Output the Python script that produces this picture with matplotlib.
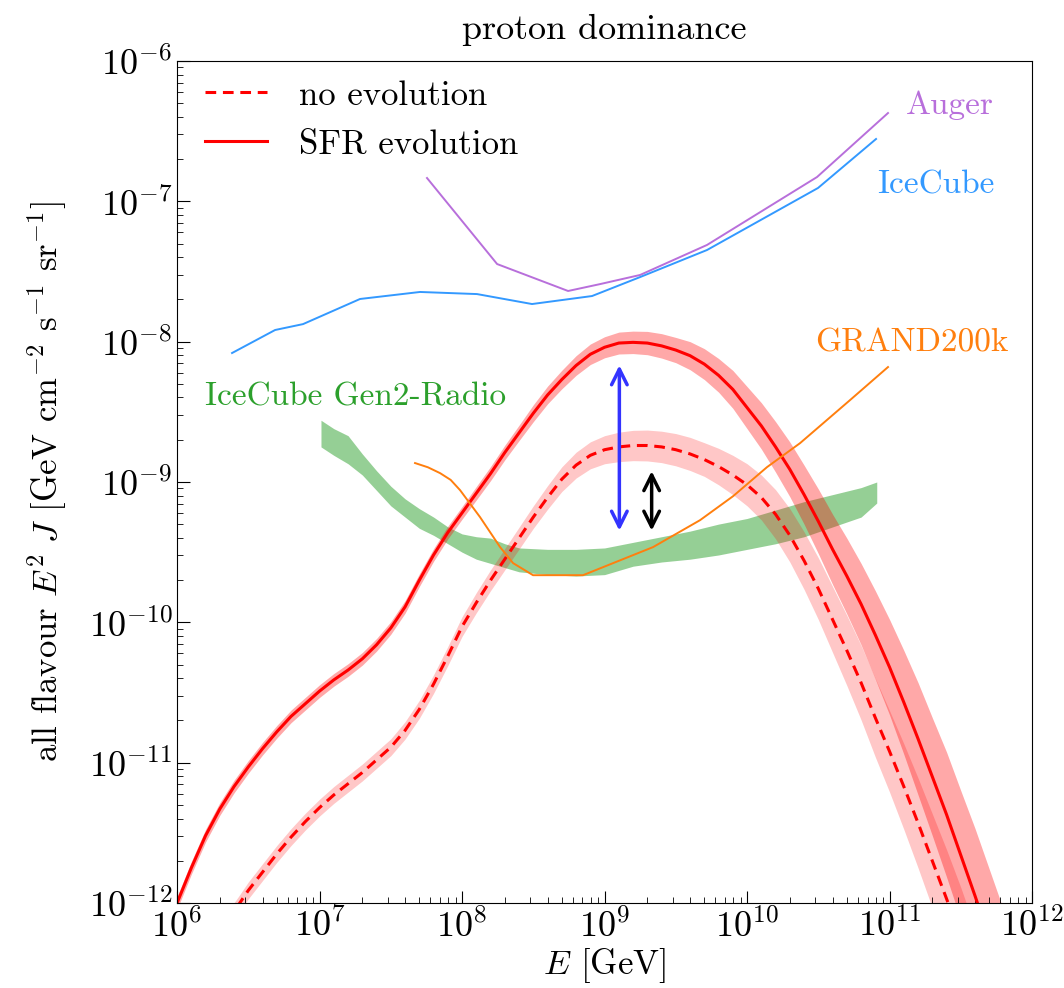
import numpy as np
import matplotlib.pyplot as plt

plt.rcParams['font.family'] = 'serif'
plt.rcParams['font.serif'] = ['cmr10']
plt.rcParams['mathtext.fontset'] = 'cm'
plt.rcParams['axes.formatter.use_mathtext'] = True

# all values are log10(E/GeV) and log10(E^2 J)
sfr_logE = [5.95, 6.00, 6.10, 6.20, 6.30, 6.40, 6.50, 6.60, 6.70, 6.80, 6.90,
            7.00, 7.10, 7.20, 7.30, 7.40, 7.50, 7.60, 7.70, 7.80, 7.90,
            8.00, 8.10, 8.20, 8.30, 8.40, 8.50, 8.60, 8.70, 8.80, 8.90,
            9.00, 9.10, 9.20, 9.30, 9.40, 9.50, 9.60, 9.70, 9.80, 9.90,
            10.00, 10.10, 10.20, 10.30, 10.40, 10.50, 10.60, 10.70, 10.80, 10.90,
            11.00, 11.10, 11.20, 11.30, 11.40, 11.50, 11.60, 11.70, 11.80]
sfr_logF = [-12.12, -12.00, -11.75, -11.52, -11.33, -11.17, -11.03, -10.90, -10.78, -10.67, -10.58,
            -10.49, -10.41, -10.34, -10.26, -10.16, -10.04, -9.89, -9.70, -9.52, -9.36,
            -9.22, -9.08, -8.94, -8.79, -8.65, -8.51, -8.38, -8.27, -8.17, -8.09,
            -8.04, -8.01, -8.005, -8.01, -8.03, -8.06, -8.10, -8.16, -8.24, -8.34,
            -8.47, -8.60, -8.75, -8.91, -9.09, -9.28, -9.48, -9.67, -9.87, -10.09,
            -10.32, -10.57, -10.83, -11.10, -11.37, -11.66, -11.95, -12.25, -12.55]
sfr_dex = [0.045, 0.045, 0.045, 0.045, 0.045, 0.045, 0.045, 0.045, 0.045, 0.045, 0.045,
           0.045, 0.045, 0.045, 0.045, 0.045, 0.045, 0.045, 0.045, 0.045, 0.045,
           0.045, 0.048, 0.05, 0.052, 0.055, 0.06, 0.063, 0.066, 0.07, 0.073,
           0.075, 0.078, 0.08, 0.083, 0.087, 0.09, 0.10, 0.11, 0.12, 0.135,
           0.15, 0.165, 0.18, 0.195, 0.21, 0.23, 0.25, 0.27, 0.29, 0.315,
           0.34, 0.37, 0.40, 0.42, 0.445, 0.46, 0.48, 0.49, 0.50]

noevo_logE = [6.35, 6.44, 6.50, 6.60, 6.70, 6.80, 6.90,
              7.00, 7.10, 7.20, 7.30, 7.40, 7.50, 7.60, 7.70, 7.80, 7.90,
              8.00, 8.10, 8.20, 8.30, 8.40, 8.50, 8.60, 8.70, 8.80, 8.90,
              9.00, 9.10, 9.20, 9.30, 9.40, 9.50, 9.60, 9.70, 9.80, 9.90,
              10.00, 10.10, 10.20, 10.30, 10.40, 10.50, 10.60, 10.70, 10.80, 10.90,
              11.00, 11.10, 11.20, 11.30, 11.40, 11.50, 11.60]
noevo_logF = [-12.13, -12.00, -11.91, -11.78, -11.65, -11.53, -11.42,
              -11.32, -11.23, -11.15, -11.07, -10.98, -10.89, -10.77, -10.62, -10.44, -10.24,
              -10.03, -9.86, -9.70, -9.55, -9.40, -9.25, -9.11, -8.98, -8.88, -8.81,
              -8.77, -8.75, -8.74, -8.74, -8.75, -8.77, -8.80, -8.84, -8.89, -8.95,
              -9.02, -9.11, -9.23, -9.38, -9.56, -9.76, -9.98, -10.20, -10.43, -10.68,
              -10.92, -11.17, -11.43, -11.70, -11.97, -12.25, -12.55]
noevo_dex = [0.06, 0.06, 0.06, 0.06, 0.06, 0.06, 0.06,
             0.06, 0.06, 0.06, 0.06, 0.06, 0.06, 0.062, 0.064, 0.066, 0.068,
             0.07, 0.072, 0.074, 0.076, 0.078, 0.08, 0.084, 0.088, 0.092, 0.096,
             0.10, 0.105, 0.108, 0.11, 0.112, 0.115, 0.118, 0.12, 0.13, 0.14,
             0.15, 0.16, 0.175, 0.19, 0.205, 0.22, 0.235, 0.25, 0.265, 0.28,
             0.29, 0.305, 0.32, 0.335, 0.35, 0.36, 0.37]

icecube_logE = [6.386, 6.688, 6.884, 7.284, 7.705, 8.105, 8.491, 8.912, 9.249, 9.719, 10.498, 10.905]
icecube_logF = [-8.081, -7.917, -7.875, -7.696, -7.646, -7.661, -7.732, -7.675, -7.54, -7.347, -6.905, -6.556]

auger_logE = [7.754, 8.246, 8.744, 8.968, 9.249, 9.719, 10.491, 10.989]
auger_logF = [-6.834, -7.447, -7.639, -7.59, -7.525, -7.311, -6.827, -6.371]

grand_logE = [7.670, 7.760, 7.846, 7.920, 7.986, 8.126, 8.267, 8.358, 8.498, 8.849, 9.060, 9.340,
              9.670, 9.902, 10.140, 10.372, 10.723, 10.989]
grand_logF = [-8.865, -8.895, -8.937, -8.985, -9.058, -9.250, -9.464, -9.578, -9.664, -9.664, -9.578, -9.464,
              -9.272, -9.101, -8.894, -8.723, -8.416, -8.181]

gen2_logE = [7.01, 7.10, 7.20, 7.30, 7.40, 7.50, 7.60, 7.70, 7.80, 7.90, 8.00, 8.10, 8.20, 8.30,
             8.40, 8.60, 8.80, 9.00, 9.20, 9.40, 9.60, 9.80, 10.00, 10.20, 10.40, 10.60, 10.80, 10.91]
gen2_top = [-8.56, -8.62, -8.67, -8.80, -8.92, -9.03, -9.12, -9.19, -9.25, -9.32, -9.37, -9.39, -9.40, -9.44,
            -9.47, -9.48, -9.48, -9.47, -9.43, -9.39, -9.35, -9.30, -9.26, -9.20, -9.14, -9.09, -9.04, -9.00]
gen2_bot = [-8.75, -8.81, -8.87, -8.95, -9.06, -9.17, -9.25, -9.33, -9.38, -9.44, -9.50, -9.55, -9.58, -9.61,
            -9.64, -9.66, -9.67, -9.66, -9.60, -9.57, -9.55, -9.52, -9.48, -9.44, -9.39, -9.32, -9.25, -9.15]


def E(a):
    return 10 ** np.asarray(a, dtype=float)


fig = plt.figure(figsize=(10.64, 9.88), dpi=100)
ax = fig.add_axes([0.1664, 0.086, 0.8036, 0.8523])

ax.fill_between(E(gen2_logE), E(gen2_bot), E(gen2_top), color='tab:green', alpha=0.5, lw=0)

nf = np.array(noevo_logF)
sf = np.array(sfr_logF)
ax.fill_between(E(noevo_logE), E(nf - noevo_dex), E(nf + noevo_dex), color='red', alpha=0.22, lw=0)
ax.fill_between(E(sfr_logE), E(sf - sfr_dex), E(sf + sfr_dex), color='red', alpha=0.34, lw=0)
ax.plot(E(noevo_logE), E(noevo_logF), color='red', lw=2.2, ls=(0, (3.5, 2.2)), label='no evolution')
ax.plot(E(sfr_logE), E(sfr_logF), color='red', lw=2.2, label='SFR evolution')

ax.plot(E(auger_logE), E(auger_logF), color='#b86fdb', lw=1.4)
ax.plot(E(icecube_logE), E(icecube_logF), color='#3399ff', lw=1.4)
ax.plot(E(grand_logE), E(grand_logF), color='tab:orange', lw=1.4)

ax.annotate('', xy=(1.27e9, 4.3e-10), xytext=(1.27e9, 7.1e-9),
            arrowprops=dict(arrowstyle='<->', color='#3333ff', lw=2.5, mutation_scale=28))
ax.annotate('', xy=(2.14e9, 4.3e-10), xytext=(2.14e9, 1.25e-9),
            arrowprops=dict(arrowstyle='<->', color='black', lw=2.5, mutation_scale=28))

ax.text(10 ** 11.116, 10 ** -6.314, 'Auger', color='#b86fdb', fontsize=24, va='center')
ax.text(10 ** 10.912, 10 ** -6.884, 'IceCube', color='#3399ff', fontsize=24, va='center')
ax.text(10 ** 10.477, 10 ** -8.01, 'GRAND200k', color='tab:orange', fontsize=24, va='center')
ax.text(10 ** 6.196, 10 ** -8.395, 'IceCube Gen2-Radio', color='tab:green', fontsize=24, va='center')

ax.set_xscale('log')
ax.set_yscale('log')
ax.set_xlim(1e6, 1e12)
ax.set_ylim(1e-12, 1e-6)
ax.tick_params(which='both', direction='in', labelsize=26)
ax.tick_params(which='major', length=9)
ax.tick_params(which='minor', length=4.5)
ax.set_xlabel(r'$E$ [GeV]', fontsize=25, labelpad=2)
ax.set_ylabel(r'all flavour $E^2\ J$ [GeV cm$^{-2}$ s$^{-1}$ sr$^{-1}$]', fontsize=25, labelpad=14)
ax.set_title('proton dominance', fontsize=26, pad=16)
ax.legend(loc='upper left', bbox_to_anchor=(0.0164, 0.994), frameon=False, fontsize=25,
          handlelength=1.8, handletextpad=0.9, borderaxespad=0)

fig.savefig('out.png', dpi=100)
